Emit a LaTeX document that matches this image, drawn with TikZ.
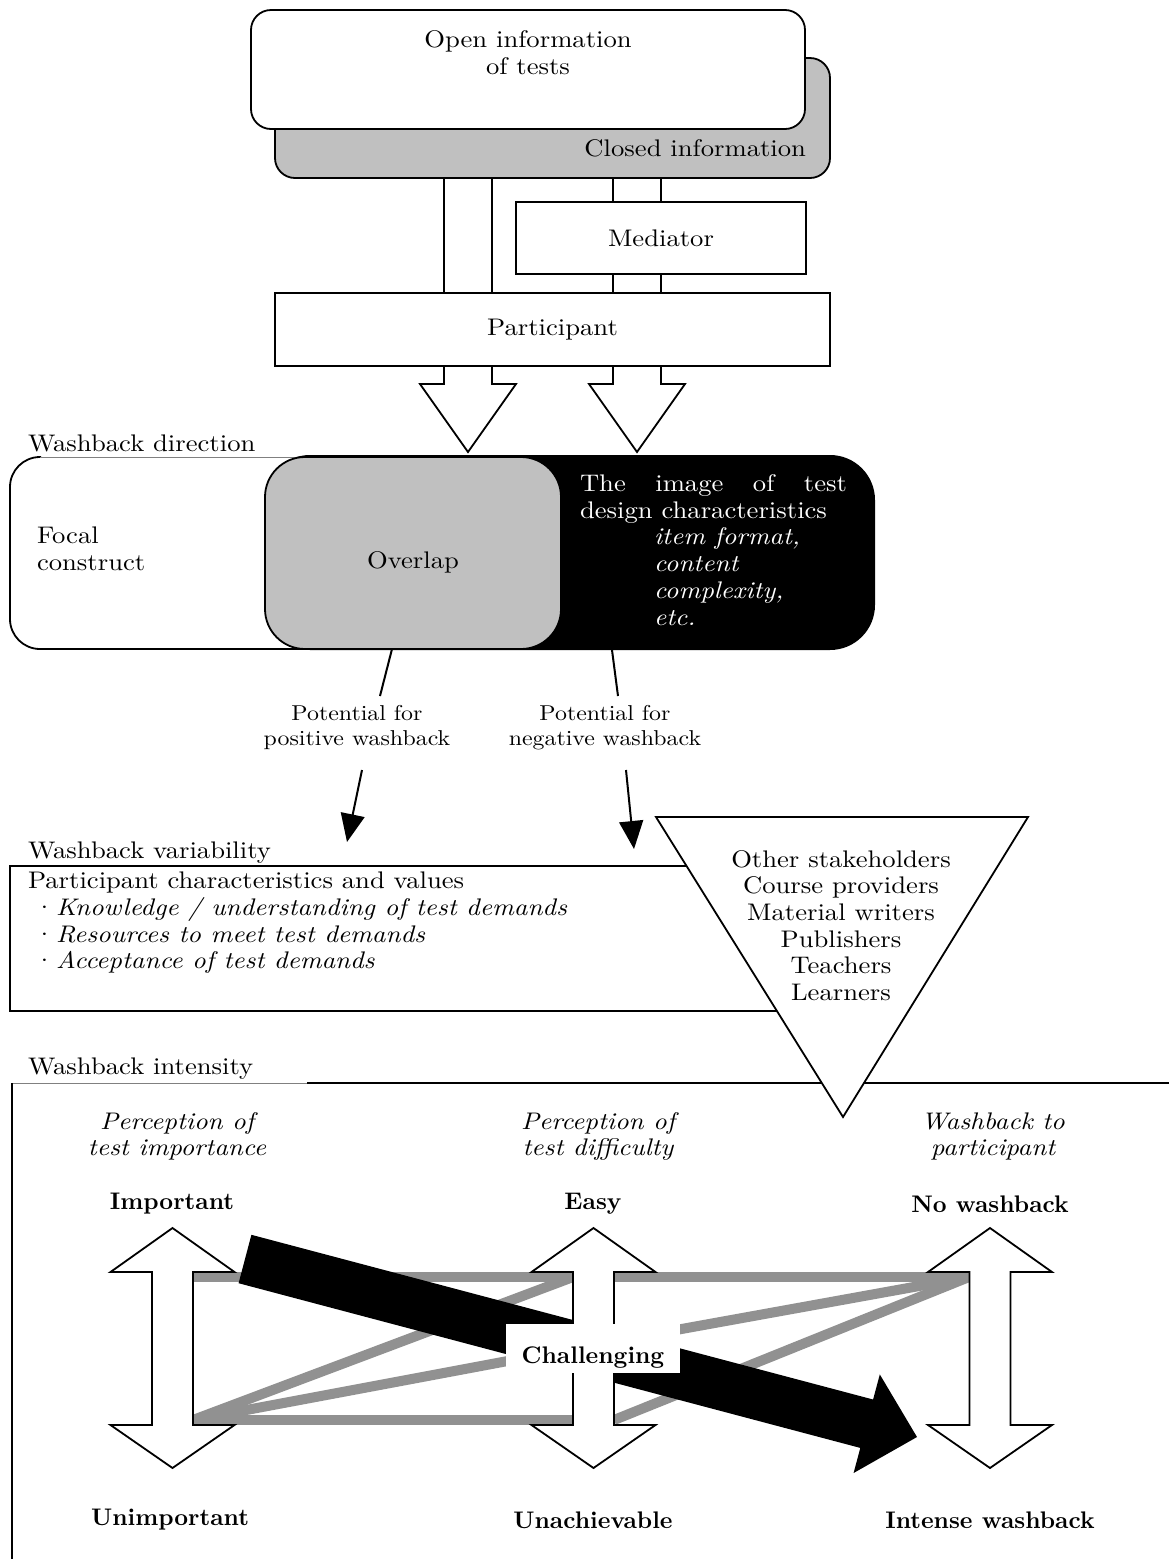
\documentclass[tikz,border=0pt]{standalone}
\usepackage{fontspec}
\setmainfont{lmroman10-regular.otf}[
  ItalicFont=lmroman10-italic.otf,
  BoldFont=lmroman10-bold.otf,
  FakeStretch=1.11]
\newfontfamily\boldlab{lmroman10-bold.otf}
\usetikzlibrary{arrows.meta}

\definecolor{boxgray}{RGB}{192,192,192}
\definecolor{bandgray}{RGB}{145,145,145}

% bullet of the participant list
\newcommand{\dotitem}{\makebox[28pt][l]{\hspace*{6pt}\textperiodcentered}}
% vertical two-headed scale arrow centred at x = #1
\newcommand{\scalearrow}[1]{%
  \draw[outline, fill=white, line join=miter] (#1,1228) -- ++(62,44) -- ++(-41.5,0)
    -- ++(0,153) -- ++(41.5,0) -- ++(-62,43) -- ++(-62,-43) -- ++(41.5,0)
    -- ++(0,-153) -- ++(-41.5,0) -- cycle;}

\begin{document}
\begin{tikzpicture}[x=1pt, y=-1pt,
  font=\fontsize{24pt}{26.7pt}\selectfont,
  every node/.style={inner sep=0pt, outer sep=0pt},
  outline/.style={draw=black, line width=1.8pt},
  heavy/.style={draw=black, line width=2.8pt},
  boldtag/.style={font=\boldlab\fontsize{24pt}{26.7pt}\selectfont},
  heading/.style={align=center, font=\fontsize{24pt}{26.7pt}\selectfont\itshape},
  smalltxt/.style={align=center, font=\fontsize{21.5pt}{25pt}\selectfont},
  band/.style={line width=10pt, draw=bandgray},
  pointer/.style={line width=2pt, -{Triangle[length=28pt,width=24pt]}},
]
\useasboundingbox (0,0) rectangle (1169,1559);
\fill[white] (0,0) rectangle (1169,1559);

% ---------- information about the test ----------
\node[outline, fill=boxgray, rounded corners=20pt, minimum width=555pt, minimum height=120pt] (closed) at (552.5,118) {};
\node[outline, fill=white, rounded corners=20pt, minimum width=554pt, minimum height=119pt] (open) at (528,69.5) {};
\node[align=center] (opentxt) at (528,52.5) {Open information\\of tests};
\node[anchor=east] (closedtxt) at (806,148) {Closed information};

% block arrows leaving the participant
\draw[outline, fill=white, line join=miter] (444,366) -- (444,384) -- (420,384) -- (468,452) -- (516,384) -- (492,384) -- (492,366);
\draw[outline, fill=white, line join=miter] (613,366) -- (613,384) -- (589,384) -- (637,452) -- (685,384) -- (661,384) -- (661,366);

\node[outline, minimum width=290pt, minimum height=72pt] (med) at (661,238) {Mediator};
\node[outline, minimum width=555pt, minimum height=73pt] (part) at (552.5,329.5) {Participant};

% channels from the information to the participant
\coordinate (pa) at (444,0);
\coordinate (pb) at (492,0);
\coordinate (pc) at (613,0);
\coordinate (pd) at (661,0);
\draw[outline] (closed.south -| pa) -- (part.north -| pa);
\draw[outline] (closed.south -| pb) -- (part.north -| pb);
\draw[outline] (closed.south -| pc) -- (med.north -| pc);
\draw[outline] (closed.south -| pd) -- (med.north -| pd);
\draw[outline] (med.south -| pc) -- (part.north -| pc);
\draw[outline] (med.south -| pd) -- (part.north -| pd);

% ---------- washback direction ----------
\node[anchor=west] (dirhead) at (28,443) {Washback direction};
\node[fill=black, rounded corners=45pt, minimum width=610pt, minimum height=195pt] (image) at (570,552.5) {};
\fill[white, rounded corners=30pt] (10,457) rectangle (320,649);
\draw[line width=1.8pt, rounded corners=30pt] (320,649) -- (10,649) -- (10,457) -- (41,457);
\draw[gray, line width=0.8pt] (40,457) -- (320,457);
\node[outline, fill=boxgray, rounded corners=40pt, minimum width=296pt, minimum height=192pt] (overlap) at (413,553) {};
\node (overlaptxt) at (413,562) {Overlap};
\node[anchor=west, align=left] (focal) at (37,548.5) {Focal\\construct};
\node[anchor=west, align=left, text=white] (imagetxt) at (580,550)
  {\hbox to 267pt{The\hfill image\hfill of\hfill test}\\
   design characteristics\\
   \hspace*{74pt}\textit{item format,}\\
   \hspace*{74pt}\textit{content}\\
   \hspace*{74pt}\textit{complexity,}\\
   \hspace*{74pt}\textit{etc.}};

\node[smalltxt] (pos) at (357,727.5) {Potential for\\positive washback};
\node[smalltxt] (neg) at (605,727.5) {Potential for\\negative washback};
\coordinate (s1) at (392,650);
\coordinate (e1) at (380,696);
\coordinate (s2) at (612,650);
\coordinate (e2) at (618,696);
\draw[line width=2pt] (overlap.south -| s1) -- (e1);
\draw[line width=2pt] (image.south -| s2) -- (e2);
\coordinate (a1) at (362,770);
\coordinate (b1) at (347,842);
\coordinate (a2) at (626,770);
\coordinate (b2) at (634,849);
\draw[pointer] (a1) -- (b1);
\draw[pointer] (a2) -- (b2);

% ---------- washback variability ----------
\node[anchor=west] (varhead) at (28,853) {Washback variability};
\node[heavy, anchor=north west, minimum width=830pt, minimum height=145pt] (varbox) at (10,866) {};
\node[anchor=west, align=left] (chars) at (28,923)
  {Participant characteristics and values\\
   \dotitem\textit{Knowledge / understanding of test demands}\\
   \dotitem\textit{Resources to meet test demands}\\
   \dotitem\textit{Acceptance of test demands}};

% ---------- washback intensity frame ----------
\node[anchor=west] (inthead) at (28,1069) {Washback intensity};
\draw[gray, line width=0.8pt] (12,1083) -- (307,1083);
\draw[heavy] (307,1083) -- (1169,1083);
\draw[heavy] (12,1083) -- (12,1559);

% other stakeholders
\draw[outline, fill=white, line join=miter] (656,817) -- (1028,817) -- (843,1117) -- cycle;
\node[align=center] (stake) at (841,925.5)
  {Other stakeholders\\Course providers\\Material writers\\Publishers\\Teachers\\Learners};

% column headings
\node[heading] (colimp) at (177,1136.5) {Perception of\\test importance};
\node[heading] (coldif) at (598,1136.5) {Perception of\\test difficulty};
\node[heading] (colwash) at (993,1136.5) {Washback to\\participant};

% hatched paths between the scales
\begin{scope}
  \clip (193,1272) rectangle (573,1425);
  \draw[band] (193,1277) -- (573,1277);
  \draw[band] (193,1420) -- (573,1420);
  \draw[band] (193,1420) -- (573,1277);
  \draw[band] (193,1420) -- (593,1345);
\end{scope}
\begin{scope}
  \clip (614,1272) rectangle (969,1425);
  \draw[band] (614,1277) -- (969,1277);
  \draw[band] (593,1345) -- (969,1277);
  \draw[band] (614,1420) -- (969,1277);
\end{scope}

% heavy path from important through challenging to intense washback
\fill[black] (251.4,1234.8) -- (873.1,1399.5) -- (879.8,1374.4) -- (917,1437)
  -- (853.6,1473) -- (860.3,1447.9) -- (238.6,1283.2) -- cycle;

% the three scales
\scalearrow{172.5}
\scalearrow{593.5}
\scalearrow{990}

\node[fill=white, minimum width=174pt, minimum height=49pt] (chalbox) at (593,1348.5) {};
\node[boldtag] (chal) at (593,1358) {Challenging};

\node[boldtag] (imp) at (172,1204) {Important};
\node[boldtag] (easy) at (593,1204) {Easy};
\node[boldtag] (nowash) at (990,1204) {No washback};
\node[boldtag] (unimp) at (170,1520) {Unimportant};
\node[boldtag] (unach) at (593,1520) {Unachievable};
\node[boldtag] (intense) at (990,1520) {Intense washback};
\end{tikzpicture}
\end{document}
